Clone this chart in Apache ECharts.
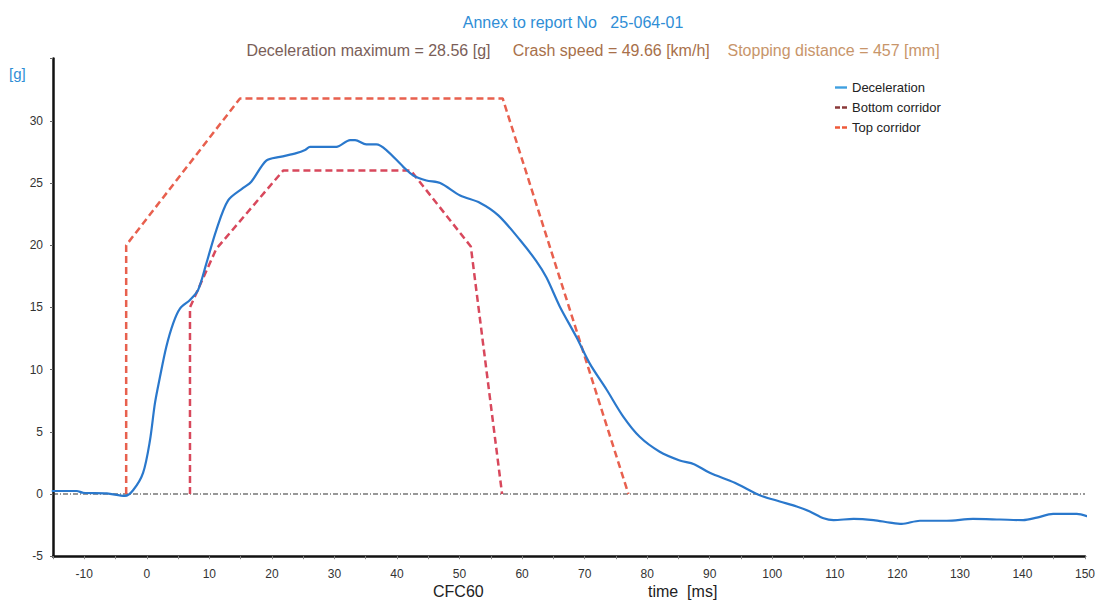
<!DOCTYPE html>
<html>
<head>
<meta charset="utf-8">
<script src="https://cdn.jsdelivr.net/npm/echarts@6/dist/echarts.min.js"></script>
<style>
html,body{margin:0;padding:0;background:#fff;}
#chart{width:1117px;height:602px;}
</style>
</head>
<body>
<div id="chart"></div>
<script>
// Deceleration trace (time in ms, deceleration in g)
const time = [-15.2, -11.2, -10.2, -6.4, -3.5, -2.2, -0.6, 0.5, 1.3, 2.1, 3.1, 4.2, 5.3, 6.9, 8.2, 9.5, 11.1, 13, 15.4, 16.7, 19.1, 21.3, 23.9, 25.3, 26.1, 30.3, 32.5, 33.3, 35.1, 36.7, 38.3, 41, 42.6, 44.7, 46.9, 50.1, 53.3, 56.2, 59.7, 62.3, 63.9, 66, 68.7, 70.8, 73.5, 76.2, 78.8, 82, 85.2, 87.5, 90, 94, 98, 101.2, 103.9, 106, 108.2, 109.8, 113, 116.2, 118.8, 120.7, 123.6, 127.9, 132.1, 136.4, 140.1, 142.3, 144.9, 148.7, 151.9, 155.1];
const decel = [0.24, 0.24, 0.1, 0.05, -0.15, 0.3, 1.7, 4.3, 7.3, 9.4, 11.8, 13.7, 14.9, 15.6, 16.4, 18.5, 21.2, 23.6, 24.6, 25.1, 26.8, 27.1, 27.4, 27.65, 27.9, 27.9, 28.45, 28.45, 28.1, 28.1, 27.65, 26.3, 25.6, 25.2, 25.0, 24.0, 23.4, 22.4, 20.4, 18.7, 17.4, 15.1, 12.6, 10.5, 8.4, 6.2, 4.6, 3.4, 2.7, 2.4, 1.7, 0.9, -0.1, -0.6, -1.0, -1.4, -1.95, -2.1, -2.0, -2.1, -2.3, -2.4, -2.15, -2.15, -2.0, -2.05, -2.1, -1.9, -1.6, -1.6, -1.95, -1.95];

// Corridors
const bottomT = [6.9, 6.9, 11.1, 21.8, 42.2, 51.8, 56.8];
const bottomG = [0, 15, 19.7, 26, 26, 19.9, 0];
const topT = [-3.3, -3.3, 14.9, 56.9, 77];
const topG = [0, 20, 31.8, 31.8, 0];

// Zero line
const zeroT = [-15, 150];
const zeroG = [0, 0];

const xTicks = [-10, 0, 10, 20, 30, 40, 50, 60, 70, 80, 90, 100, 110, 120, 130, 140, 150];
const yTicks = [-5, 0, 5, 10, 15, 20, 25, 30];

const zip = (a, b) => a.map((v, i) => [v, b[i]]);

const FONT = '"Liberation Sans", Arial, sans-serif';
const chart = echarts.init(document.getElementById('chart'), null, {renderer: 'svg'});

const solidIcon = 'path://M0,0h12v2.4h-12z';
const dashIcon = 'path://M0,0h5v2.4h-5z M7,0h5v2.4h-5z';

chart.setOption({
  backgroundColor: '#ffffff',
  animation: false,
  textStyle: {fontFamily: FONT},
  title: [
    {
      text: 'Annex to report No   25-064-01',
      left: 568, top: 9, textAlign: 'center',
      textStyle: {fontSize: 16, fontWeight: 'normal', color: '#2f8ed6', fontFamily: FONT}
    },
    {
      text: '{a|Deceleration maximum = 28.56 [g]}     {b|Crash speed = 49.66 [km/h]}    {c|Stopping distance = 457 [mm]}',
      left: 588, top: 37, textAlign: 'center',
      textStyle: {
        fontSize: 16, fontWeight: 'normal', fontFamily: FONT,
        rich: {
          a: {fontSize: 16, color: '#7a5e58', fontFamily: FONT},
          b: {fontSize: 16, color: '#a8704a', fontFamily: FONT},
          c: {fontSize: 16, color: '#c8956a', fontFamily: FONT}
        }
      }
    }
  ],
  legend: {
    left: 830, top: 76, orient: 'vertical', itemGap: 7,
    itemWidth: 12, itemHeight: 13,
    textStyle: {fontSize: 13, color: '#222', fontFamily: FONT},
    data: [
      {name: 'Deceleration', icon: solidIcon},
      {name: 'Bottom corridor', icon: dashIcon},
      {name: 'Top corridor', icon: dashIcon}
    ]
  },
  grid: {left: 53, right: 32, top: 58.6, bottom: 45.8, containLabel: false},
  xAxis: {
    type: 'value', min: -15, max: 150, interval: 5,
    axisLine: {show: true, onZero: false, lineStyle: {color: '#111', width: 2.5}},
    axisTick: {show: true, length: 3, lineStyle: {color: '#888'}},
    splitLine: {show: false},
    axisLabel: {
      margin: 12, fontSize: 12, color: '#333', interval: 0,
      formatter: v => xTicks.indexOf(v) >= 0 ? String(v) : ''
    }
  },
  yAxis: {
    type: 'value', min: -5, max: 35, interval: 5,
    axisLine: {show: true, onZero: false, lineStyle: {color: '#111', width: 2.5}},
    axisTick: {show: true, length: 3, lineStyle: {color: '#666'}},
    splitLine: {show: false},
    axisLabel: {
      margin: 10, fontSize: 12, color: '#333',
      formatter: v => yTicks.indexOf(v) >= 0 ? String(v) : ''
    }
  },
  graphic: [
    {type: 'text', left: 9, top: 66, style: {text: '[g]', fontSize: 15, fill: '#2f8ed6', fontFamily: FONT}},
    {type: 'text', left: 433, top: 583, style: {text: 'CFC60', fontSize: 16, fill: '#222', fontFamily: FONT}},
    {type: 'text', left: 648, top: 583, style: {text: 'time  [ms]', fontSize: 16, fill: '#222', fontFamily: FONT}}
  ],
  series: [
    {
      name: 'Zero line', type: 'line', data: zip(zeroT, zeroG),
      showSymbol: false, symbol: 'none', silent: true,
      lineStyle: {color: '#333', width: 1.2, type: [5, 2, 1, 2]}, z: 1
    },
    {
      name: 'Top corridor', type: 'line', data: zip(topT, topG),
      showSymbol: false, symbol: 'none',
      lineStyle: {color: '#e8604e', width: 2.5, type: [7, 4]},
      itemStyle: {color: '#ef5a3a'}, z: 2
    },
    {
      name: 'Bottom corridor', type: 'line', data: zip(bottomT, bottomG),
      showSymbol: false, symbol: 'none',
      lineStyle: {color: '#d8485c', width: 2.5, type: [7, 4]},
      itemStyle: {color: '#8a3a3a'}, z: 2
    },
    {
      name: 'Deceleration', type: 'line', data: zip(time, decel),
      showSymbol: false, symbol: 'none', smooth: 0.3, clip: false,
      lineStyle: {color: '#2a78cc', width: 2.2},
      itemStyle: {color: '#3fa0e0'}, z: 3
    }
  ]
});
</script>
</body>
</html>
